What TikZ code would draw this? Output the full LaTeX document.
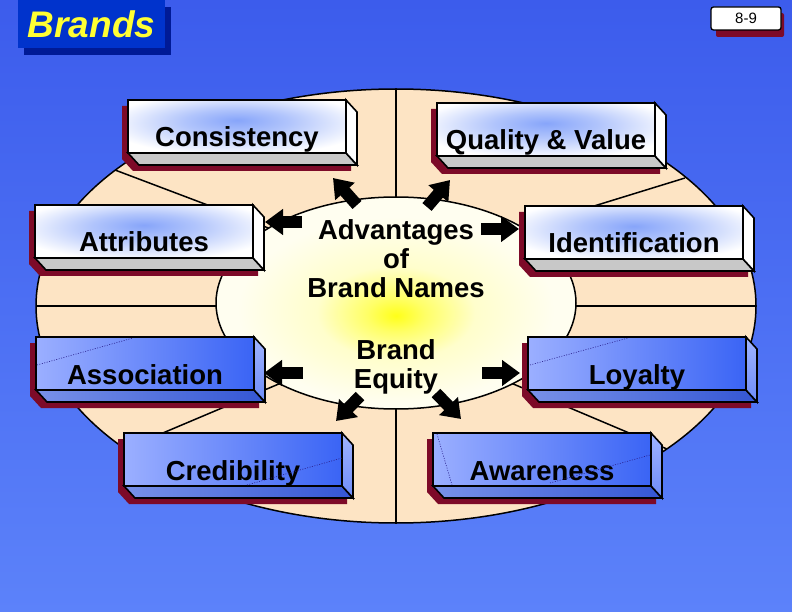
\documentclass[tikz,border=0pt]{standalone}
\usepackage{fontspec}
\setmainfont{Liberation Sans}
\usetikzlibrary{arrows.meta}
\definecolor{bgtop}{RGB}{60,92,236}
\definecolor{bgbot}{RGB}{92,130,250}
\definecolor{peach}{RGB}{253,228,196}
\definecolor{shred}{RGB}{125,10,40}
\definecolor{cream}{RGB}{255,254,240}
\definecolor{glowblue}{RGB}{135,165,250}
\definecolor{grayface}{RGB}{200,200,200}
\definecolor{bluel}{RGB}{155,175,255}
\definecolor{blued}{RGB}{58,100,245}
\definecolor{bluebl}{RGB}{120,145,232}
\definecolor{bluebd}{RGB}{52,86,212}
\definecolor{bluesl}{RGB}{160,180,255}
\definecolor{bluesd}{RGB}{110,140,248}
\definecolor{titleblue}{RGB}{0,51,204}
\definecolor{titleshadow}{RGB}{0,26,150}
\definecolor{titleyellow}{RGB}{255,255,51}
\definecolor{dotnavy}{RGB}{40,30,140}
\pgfdeclareradialshading{innerglow}{\pgfpoint{0bp}{-3bp}}{color(0bp)=(yellow!90!white); color(4bp)=(yellow!60!white); color(11bp)=(yellow!15!cream); color(22bp)=(cream); color(50bp)=(cream)}
\pgfdeclareradialshading{boxglow}{\pgfpoint{0bp}{6bp}}{color(0bp)=(glowblue); color(12bp)=(glowblue!65!white); color(30bp)=(white); color(50bp)=(white)}
\tikzset{
  edge/.style={draw=black, line width=1.6pt, line join=miter},
  wfront/.style={edge, shading=boxglow},
  wbottom/.style={edge, fill=grayface},
  wside/.style={edge, fill=white},
  bfront/.style={edge, left color=bluel, right color=blued},
  bbottom/.style={edge, left color=bluebl, right color=bluebd},
  bside/.style={edge, top color=bluesl, bottom color=bluesd},
  boxtext/.style={font=\fontsize{27.5}{30}\selectfont\bfseries, inner sep=0, text=black},
  centertext/.style={font=\fontsize{27.5}{29}\selectfont\bfseries, inner sep=0, align=center},
  bigarrow/.style={line width=12pt, -{Triangle[length=18pt,width=25pt]}},
  divider/.style={line width=1.5pt, draw=black},
  dotline/.style={draw=dotnavy, line width=0.6pt, dash pattern=on 1pt off 1.5pt},
}
\newcommand{\brandbox}[5]{%
  \begin{scope}[shift={(#2,#3)}]
    \fill[shred] (-6,6) -- (212,6) -- (223,18) -- (223,71) -- (5,71) -- (-6,59) -- cycle;
    \path[#4bottom] (0,53) -- (218,53) -- (229,65) -- (11,65) -- cycle;
    \path[#4side] (218,0) -- (229,12) -- (229,65) -- (218,53) -- cycle;
    \node[#4front, minimum width=218pt, minimum height=53pt, inner sep=0] (#1) at (109,26.5) {};
    \node[boxtext, anchor=base] (#1-t) at (109,47) {#5};
  \end{scope}}
\begin{document}
\begin{tikzpicture}[x=1pt, y=-1pt]
\useasboundingbox (0,0) rectangle (792,612);
\shade[top color=bgtop, bottom color=bgbot] (0,0) rectangle (792,612);
% outer ring
\path[divider, fill=peach] (396,306) ellipse [x radius=360, y radius=217];
\draw[divider] (396,89) -- (396,303);
\draw[divider] (396,523) -- (396,303);
\draw[divider] (36,306) -- (396,306);
\draw[divider] (756,306) -- (396,306);
\draw[divider] (115,170) -- (300,240);
\draw[divider] (685,178) -- (500,235);
\draw[divider] (125,449) -- (300,375);
\draw[divider] (667,449) -- (492,375);
% inner ellipse
\path[divider, shading=innerglow] (396,303) ellipse [x radius=180, y radius=106];
% boxes
\brandbox{cons}{128}{100}{w}{Consistency}
\brandbox{qual}{437}{103}{w}{Quality \& Value}
\brandbox{attr}{35}{205}{w}{Attributes}
\brandbox{iden}{525}{206}{w}{Identification}
\brandbox{asso}{36}{337}{b}{Association}
\brandbox{loya}{528}{337}{b}{Loyalty}
\brandbox{cred}{124}{433}{b}{Credibility}
\brandbox{awar}{433}{433}{b}{Awareness}
% faint dotted marks on blue boxes
\draw[dotline] (37,365) -- (133,338);
\draw[dotline] (530,365) -- (628,338);
\draw[dotline] (247,485) -- (342,458);
\draw[dotline] (437,434) -- (452,485);
\draw[dotline] (550,483) -- (650,455);
% arrows
\coordinate (a1t) at (357,205); \coordinate (a1h) at (333,178);
\coordinate (a2t) at (427,207); \coordinate (a2h) at (450,180);
\coordinate (a3t) at (302,222); \coordinate (a3h) at (265,222);
\coordinate (a4t) at (481,229); \coordinate (a4h) at (519,229);
\coordinate (a5t) at (303,373); \coordinate (a5h) at (264,373);
\coordinate (a6t) at (482,373); \coordinate (a6h) at (520,373);
\coordinate (a7t) at (360,396); \coordinate (a7h) at (336,421);
\coordinate (a8t) at (436,393); \coordinate (a8h) at (461,419);
\foreach \i in {1,...,8} { \draw[bigarrow] (a\i t) -- (a\i h); }
% center texts
\node[centertext] (adv) at (396,259) {Advantages\\of\\Brand Names};
\node[centertext] (eq) at (396,367) {Brand\\Equity};
% title
\fill[titleshadow] (24,7) rectangle (171,55);
\node[fill=titleblue, minimum width=147pt, minimum height=48pt, inner sep=0, text=titleyellow, font=\fontsize{37}{37}\selectfont\bfseries\itshape] (title) at (91.5,24) {Brands};
% page number
\fill[shred, rounded corners=2pt] (716,13) rectangle (784,37);
\node[draw=black, fill=white, rounded corners=2.5pt, line width=1.3pt, minimum width=70pt, minimum height=23pt, inner sep=0, font=\fontsize{15}{15}\selectfont] (pg) at (746,18.5) {8-9};
\end{tikzpicture}
\end{document}
